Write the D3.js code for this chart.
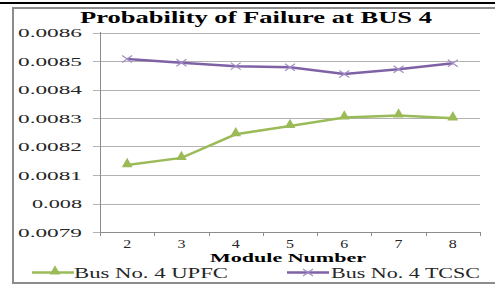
<!DOCTYPE html>
<html lang="en">
<head>
<meta charset="UTF-8">
<title>Probability of Failure at BUS 4</title>
<script src="https://d3js.org/d3.v7.min.js"></script>
<style>
  body { margin: 0; background: #fff; overflow: hidden; }
  svg text { font-family: "Liberation Serif", "DejaVu Serif", serif; }
</style>
</head>
<body>
<svg id="chart"></svg>
<script>
const W = 495, H = 287;

// data
const modules = [2, 3, 4, 5, 6, 7, 8];
const upfc = [0.008135, 0.008160, 0.008243, 0.008272, 0.008302, 0.008309, 0.008299];
const tcsc = [0.008507, 0.008494, 0.008482, 0.008478, 0.008454, 0.008471, 0.008492];
const yTicks = [0.0079, 0.008, 0.0081, 0.0082, 0.0083, 0.0084, 0.0085, 0.0086];
const seriesNames = ["Bus No. 4 UPFC", "Bus No. 4 TCSC"];

const green = "#9bbb59", purple = "#7f62a6";

const svg = d3.select("#chart").attr("width", W).attr("height", H);

// frame
svg.append("line").attr("x1", 0).attr("x2", W).attr("y1", 3).attr("y2", 3)
  .attr("stroke", "#000").attr("stroke-width", 2);
svg.append("path").attr("d", `M${W},8 H13 V283 H${W}`)
  .attr("fill", "none").attr("stroke", "#8c8c8c").attr("stroke-width", 2);

const x = d3.scaleBand().domain(modules).range([100, 480]);
const y = d3.scaleLinear().domain([0.0079, 0.0086]).range([232, 32.5]);

// gridlines
svg.append("g").selectAll("line").data(yTicks).join("line")
  .attr("x1", 93).attr("x2", 480)
  .attr("y1", d => Math.round(y(d)) + 0.5).attr("y2", d => Math.round(y(d)) + 0.5)
  .attr("stroke", "#b3b3b3").attr("stroke-width", 1);

// y axis labels
const fmt = d => d3.format(".4f")(d).replace(/0+$/, "");
svg.append("g").selectAll("text").data(yTicks).join("text")
  .attr("x", 82).attr("y", d => y(d) + 4.5)
  .attr("text-anchor", "end").attr("font-size", 13).attr("fill", "#262626")
  .attr("textLength", d => fmt(d).length === 6 ? 64 : 50)
  .attr("lengthAdjust", "spacingAndGlyphs")
  .text(fmt);

// axes lines
svg.append("line").attr("x1", 100.5).attr("x2", 100.5).attr("y1", 32).attr("y2", 236)
  .attr("stroke", "#8c8c8c");
const xAxis = svg.append("g").attr("transform", "translate(0,232)")
  .call(d3.axisBottom(x).tickSize(0).tickFormat(d => d));
xAxis.select(".domain").attr("stroke", "#8c8c8c").attr("d", "M100,0.5H480");
xAxis.selectAll(".tick text").attr("font-family", "Liberation Serif, serif")
  .attr("font-size", 12).attr("fill", "#262626").attr("dy", 0).attr("y", 16)
  .attr("textLength", 8).attr("lengthAdjust", "spacingAndGlyphs");
const tickPos = modules.map(m => x(m)).concat([480]);
svg.append("g").selectAll("line").data(tickPos).join("line")
  .attr("x1", d => Math.round(d) + 0.5).attr("x2", d => Math.round(d) + 0.5)
  .attr("y1", 232).attr("y2", 236).attr("stroke", "#8c8c8c");

// lines
const cx = d => x(d) + x.bandwidth() / 2;
const line = d3.line().x((d, i) => cx(modules[i])).y(d => y(d));

svg.append("path").datum(tcsc).attr("d", line)
  .attr("fill", "none").attr("stroke", purple).attr("stroke-width", 2.5);
svg.append("path").datum(upfc).attr("d", line)
  .attr("fill", "none").attr("stroke", green).attr("stroke-width", 2.5);

const xMark = (px, py) => `M${px - 5},${py - 3.5}L${px + 5},${py + 3.5}M${px - 5},${py + 3.5}L${px + 5},${py - 3.5}`;
const tri = d3.symbol().type(d3.symbolTriangle).size(50);

svg.append("g").selectAll("path").data(tcsc).join("path")
  .attr("d", (d, i) => xMark(cx(modules[i]), y(d)))
  .attr("stroke", "#a08cc4").attr("stroke-width", 1.2).attr("fill", "none");
svg.append("g").selectAll("path").data(upfc).join("path")
  .attr("transform", (d, i) => `translate(${cx(modules[i])},${y(d) - 1})`)
  .attr("d", tri).attr("fill", green);

// title
svg.append("text").attr("x", 256).attr("y", 23).attr("text-anchor", "middle")
  .attr("font-size", 16.5).attr("font-weight", "bold")
  .attr("textLength", 352).attr("lengthAdjust", "spacingAndGlyphs")
  .text("Probability of Failure at BUS 4");

// x axis title
svg.append("text").attr("x", 288).attr("y", 262).attr("text-anchor", "middle")
  .attr("font-size", 13).attr("font-weight", "bold")
  .attr("textLength", 156).attr("lengthAdjust", "spacingAndGlyphs")
  .text("Module Number");

// legend
const legY = 272.5;
svg.append("line").attr("x1", 32).attr("x2", 74).attr("y1", legY).attr("y2", legY)
  .attr("stroke", green).attr("stroke-width", 2.5);
svg.append("path").attr("transform", `translate(55,${legY - 1})`).attr("d", tri).attr("fill", green);
svg.append("text").attr("x", 74).attr("y", 278).attr("font-size", 14.5).attr("fill", "#262626")
  .attr("textLength", 154).attr("lengthAdjust", "spacingAndGlyphs").text(seriesNames[0]);

svg.append("line").attr("x1", 287).attr("x2", 329).attr("y1", legY).attr("y2", legY)
  .attr("stroke", purple).attr("stroke-width", 2.5);
svg.append("path").attr("d", xMark(308, legY))
  .attr("stroke", "#a08cc4").attr("stroke-width", 1.2).attr("fill", "none");
svg.append("text").attr("x", 331).attr("y", 278).attr("font-size", 14.5).attr("fill", "#262626")
  .attr("textLength", 149).attr("lengthAdjust", "spacingAndGlyphs").text(seriesNames[1]);
</script>
</body>
</html>
